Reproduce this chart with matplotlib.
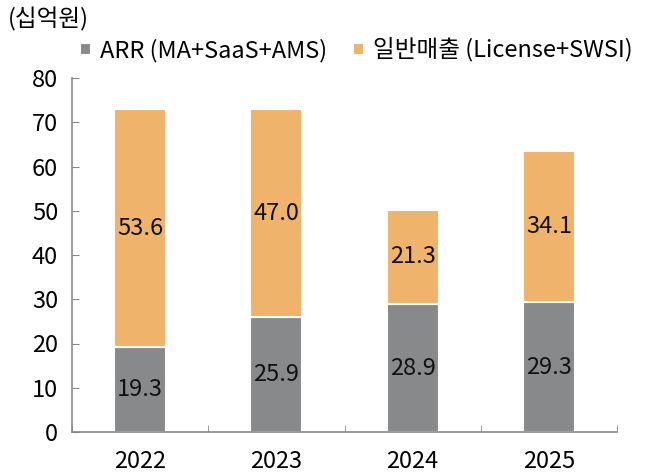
import matplotlib
matplotlib.use("Agg")
import matplotlib.pyplot as plt
import numpy as np

plt.rcParams['font.family'] = ['Noto Sans CJK KR', 'DejaVu Sans']

years = ["2022", "2023", "2024", "2025"]
arr = [19.3, 25.9, 28.9, 29.3]
general = [53.6, 47.0, 21.3, 34.1]
labels = ["ARR (MA+SaaS+AMS)", "일반매출 (License+SWSI)"]
yticks = [0, 10, 20, 30, 40, 50, 60, 70, 80]

gray = "#87898b"
orange = "#f0b36b"
fs = 17

fig = plt.figure(figsize=(6.49, 4.72), dpi=100)
ax = fig.add_axes([72/649, 1-432/472, 545/649, (432-78)/472])

x = np.arange(len(years))
w = 0.38
b1 = ax.bar(x, arr, w, color=gray, edgecolor="white", linewidth=1.5, label=labels[0])
b2 = ax.bar(x, general, w, bottom=arr, color=orange, edgecolor="white", linewidth=1.5, label=labels[1])

for i in range(len(years)):
    ax.text(x[i], arr[i]/2, f"{arr[i]:.1f}", ha="center", va="center", fontsize=fs, color="#111111")
    ax.text(x[i], arr[i] + general[i]/2, f"{general[i]:.1f}", ha="center", va="center", fontsize=fs, color="#111111")

ax.set_xlim(-0.5, len(years)-0.5)
ax.set_ylim(0, 80)
ax.set_yticks(yticks)
ax.set_yticklabels([str(t) for t in yticks], fontsize=fs)
ax.set_xticks(x)
ax.set_xticklabels(years, fontsize=fs)
ax.tick_params(axis='x', length=0, pad=13)
ax.tick_params(axis='y', direction='in', length=5, color="#888888", pad=10)
ax.set_xticks(np.arange(len(years)+1) - 0.5, minor=True)
ax.tick_params(axis='x', which='minor', direction='in', length=5, color="#888888")
for s in ["top", "right"]:
    ax.spines[s].set_visible(False)
for s in ["left", "bottom"]:
    ax.spines[s].set_color("#888888")
    ax.spines[s].set_linewidth(1.2)

fig.text(8/649, 1-19/472, "(십억원)", fontsize=fs, va="center", ha="left")
leg = fig.legend(handles=[b1, b2], labels=labels, loc="center left",
                 bbox_to_anchor=(80/649, 1-50/472), ncol=2, frameon=False,
                 fontsize=fs, handlelength=0.45, handleheight=0.45, handletextpad=0.4,
                 columnspacing=1.1, borderaxespad=0, borderpad=0)

fig.savefig("out.png", dpi=100)
